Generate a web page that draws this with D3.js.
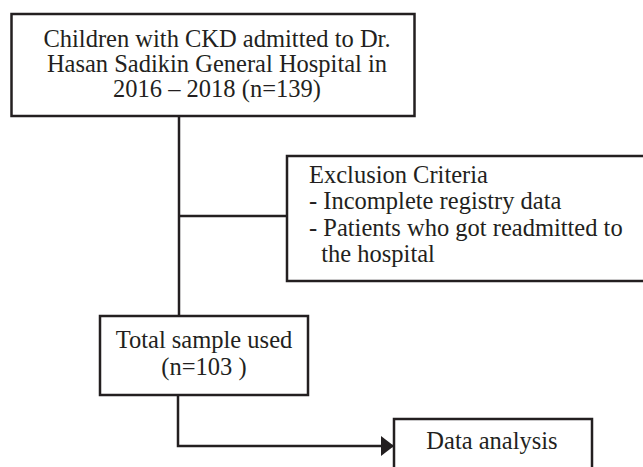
<!DOCTYPE html>
<html><head><meta charset="utf-8">
<script src="https://cdn.jsdelivr.net/npm/d3@7"></script>
<style>html,body{margin:0;padding:0;background:#fff;}svg{display:block;}</style>
</head><body><svg id="c" width="643" height="467"></svg>
<script>
const boxTitles = ["screened", "excluded", "sample", "analysis"];
const screenedLines = ["Children with CKD admitted to Dr.", "Hasan Sadikin General Hospital in", "2016 \u2013 2018 (n=139)"];
const excludedLines = ["Exclusion Criteria", "- Incomplete registry data", "- Patients who got readmitted to", "  the hospital"];
const sampleLines = ["Total sample used", "(n=103 )"];
const analysisLines = ["Data analysis"];

const svg = d3.select("#c");
const ink = "#231f20";
const font = "'Liberation Serif', 'DejaVu Serif', serif";

const layout = {
  screened: {x: 11.5, y: 14, w: 403, h: 102, lines: screenedLines, anchor: "middle", tx: 217, ty: 47, lh: 25, fs: 24.5},
  excluded: {x: 287, y: 156, w: 380, h: 125, lines: excludedLines, anchor: "start", tx: 309, ty: 183, lh: 26.3, fs: 24.5},
  sample: {x: 100, y: 316, w: 208, h: 79, lines: sampleLines, anchor: "middle", tx: 204, ty: 348, lh: 27, fs: 24.5},
  analysis: {x: 394, y: 419, w: 198, h: 80, lines: analysisLines, anchor: "middle", tx: 492, ty: 449, lh: 25, fs: 24.5}
};

svg.append("defs").append("marker")
  .attr("id", "arr").attr("viewBox", "0 0 13 20").attr("refX", 13).attr("refY", 10)
  .attr("markerWidth", 13).attr("markerHeight", 20).attr("markerUnits", "userSpaceOnUse")
  .attr("orient", "auto")
  .append("path").attr("d", "M0,0 L13,10 L0,20 Z").attr("fill", ink);

const line = d3.line();
const links = [
  [[179, 116], [179, 316]],
  [[179, 216], [287, 216]],
];
svg.selectAll("path.link").data(links).join("path").attr("class", "link")
  .attr("d", d => line(d)).attr("fill", "none").attr("stroke", ink).attr("stroke-width", 2.5);
svg.append("path").attr("d", line([[178, 395], [178, 446], [394, 446]]))
  .attr("fill", "none").attr("stroke", ink).attr("stroke-width", 2.5).attr("marker-end", "url(#arr)");

const g = svg.selectAll("g.box").data(boxTitles.map(k => layout[k])).join("g").attr("class", "box");
g.append("rect").attr("x", d => d.x).attr("y", d => d.y).attr("width", d => d.w).attr("height", d => d.h)
  .attr("fill", "#fff").attr("stroke", ink).attr("stroke-width", 2.5);
g.each(function(d) {
  d3.select(this).selectAll("text").data(d.lines).join("text")
    .attr("x", d.tx).attr("y", (t, i) => d.ty + i * d.lh)
    .attr("text-anchor", d.anchor)
    .attr("font-family", font).attr("font-size", d.fs).attr("fill", ink)
    .style("white-space", "pre")
    .text(t => t);
});
</script></body></html>
